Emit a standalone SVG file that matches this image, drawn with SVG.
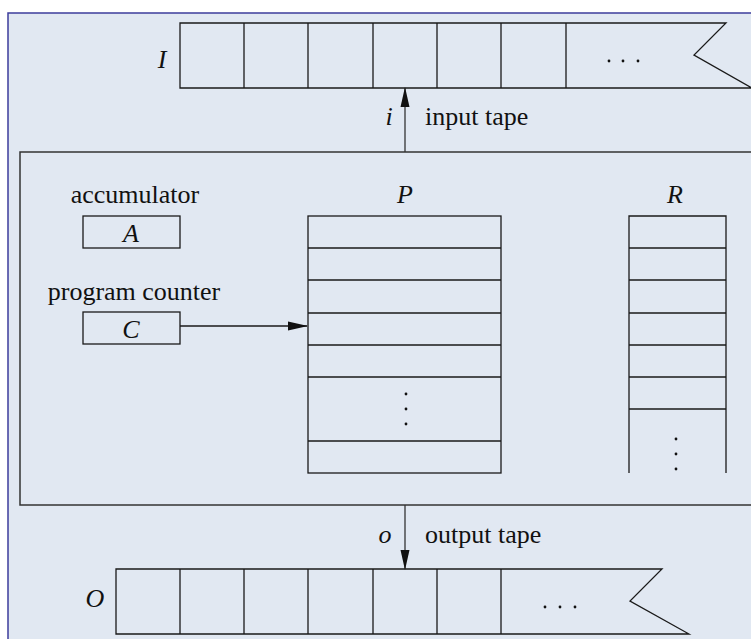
<svg xmlns="http://www.w3.org/2000/svg" width="751" height="639" viewBox="0 0 751 639">
<style>
.t{font-family:"Liberation Serif","Times New Roman",serif;font-size:26px;fill:#111}
.it{font-style:italic}
.ln{fill:none;stroke:#1a1a1a;stroke-width:1.3}
.cell{fill:none;stroke:#1a1a1a;stroke-width:1.3}
.dot{fill:#111}
</style>
<defs>
<marker id="ah" markerWidth="10" markerHeight="10" refX="9" refY="5" orient="auto" markerUnits="userSpaceOnUse" viewBox="0 0 10 10">
<path d="M0,0.5 L10,5 L0,9.5 Z" fill="#111"/>
</marker>
<marker id="ahv" markerWidth="20" markerHeight="10" refX="19" refY="5" orient="auto" markerUnits="userSpaceOnUse" viewBox="0 0 20 10">
<path d="M0,0.5 L20,5 L0,9.5 Z" fill="#111"/>
</marker>
</defs>
<rect x="0" y="0" width="751" height="639" fill="#ffffff"/>
<rect id="frame" x="8" y="13" width="760" height="640" fill="#e1e8f2" stroke="#3c3c9c" stroke-width="1.5"/>

<g id="input-tape">
<path class="cell" d="M180,23 H726 L694,55 L752,88 H180 Z"/>
<path class="cell" d="M244,23 V88 M308,23 V88 M373,23 V88 M437,23 V88 M501,23 V88 M566,23 V88"/>
<circle class="dot" cx="609" cy="61" r="1.4"/>
<circle class="dot" cx="623" cy="61" r="1.4"/>
<circle class="dot" cx="638" cy="61" r="1.4"/>
<text class="t it" x="162" y="68" text-anchor="middle">I</text>
</g>

<g id="machine">
<rect x="20" y="152" width="760" height="353" fill="none" stroke="#333" stroke-width="1.5"/>
</g>

<g id="accumulator">
<text class="t" x="135" y="203" text-anchor="middle">accumulator</text>
<rect class="cell" x="83" y="216" width="97" height="32"/>
<text class="t it" x="131" y="242" text-anchor="middle">A</text>
</g>

<g id="program-counter">
<text class="t" x="134" y="300" text-anchor="middle">program counter</text>
<rect class="cell" x="83" y="312" width="97" height="32"/>
<text class="t it" x="131" y="338" text-anchor="middle">C</text>
</g>

<g id="program">
<text class="t it" x="405" y="203" text-anchor="middle">P</text>
<rect class="cell" x="308" y="216" width="193" height="257"/>
<path class="cell" d="M308,248 H501 M308,280 H501 M308,313 H501 M308,345 H501 M308,377 H501 M308,441 H501"/>
<circle class="dot" cx="406" cy="394" r="1.4"/>
<circle class="dot" cx="406" cy="409" r="1.4"/>
<circle class="dot" cx="406" cy="424" r="1.4"/>
</g>

<g id="registers">
<text class="t it" x="675" y="203" text-anchor="middle">R</text>
<path class="cell" d="M629,473 V216 H726 V473"/>
<path class="cell" d="M629,248 H726 M629,280 H726 M629,313 H726 M629,345 H726 M629,377 H726 M629,409 H726"/>
<circle class="dot" cx="676" cy="439" r="1.4"/>
<circle class="dot" cx="676" cy="454" r="1.4"/>
<circle class="dot" cx="676" cy="469" r="1.4"/>
</g>

<g id="output-tape">
<path class="cell" d="M116,569 H662 L630,601 L689,634 H116 Z"/>
<path class="cell" d="M180,569 V634 M244,569 V634 M308,569 V634 M373,569 V634 M437,569 V634 M501,569 V634"/>
<circle class="dot" cx="545" cy="607" r="1.4"/>
<circle class="dot" cx="560" cy="607" r="1.4"/>
<circle class="dot" cx="575" cy="607" r="1.4"/>
<text class="t it" x="95" y="607" text-anchor="middle">O</text>
</g>

<g id="connectors">
<line x1="405" y1="152" x2="405" y2="88" stroke="#333" stroke-width="1.3" marker-end="url(#ahv)"/>
<line x1="405" y1="505" x2="405" y2="569" stroke="#333" stroke-width="1.3" marker-end="url(#ahv)"/>
<line x1="180" y1="326" x2="307" y2="326" stroke="#1a1a1a" stroke-width="1.3" marker-end="url(#ahv)"/>
<text class="t it" x="389" y="125" text-anchor="middle">i</text>
<text class="t" x="425" y="125">input tape</text>
<text class="t it" x="385" y="543" text-anchor="middle">o</text>
<text class="t" x="425" y="543">output tape</text>
</g>
</svg>
